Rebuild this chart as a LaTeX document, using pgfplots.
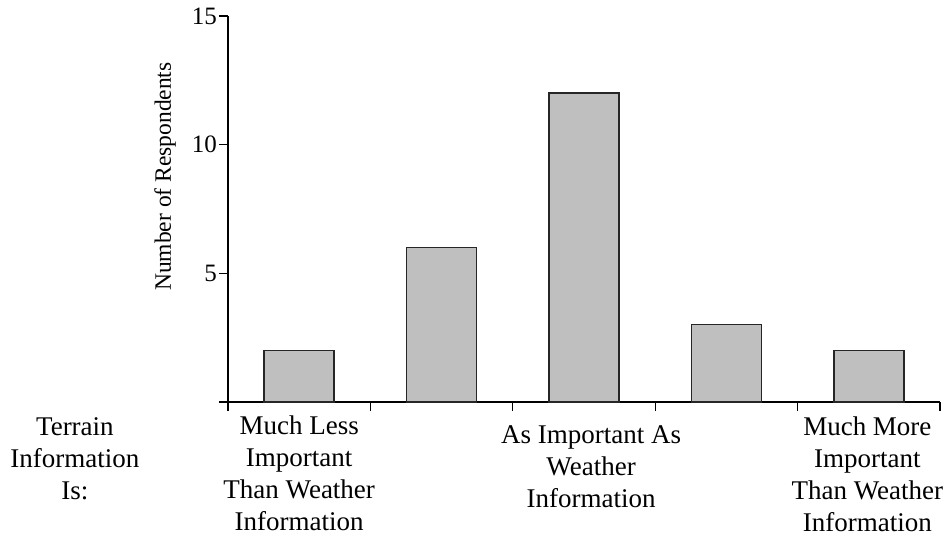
\documentclass[border=0pt]{standalone}
\usepackage{pgfplots}
\pgfplotsset{compat=1.18}
\usepackage{fontspec}
\setmainfont{Liberation Serif}

\begin{document}
\begin{tikzpicture}
\begin{axis}[
    scale only axis,
    width=712pt, height=386pt,
    xmin=0, xmax=5, ymin=0, ymax=15,
    axis x line*=bottom, axis y line*=left,
    axis line style={line width=1.4pt, -},
    xtick={0,1,2,3,4,5}, xticklabels={},
    ytick={0,5,10,15}, yticklabels={,5,10,15},
    tick align=outside,
    major tick length=9pt,
    tick style={line width=1.2pt, black},
    yticklabel style={font=\fontsize{25}{25}\selectfont, inner sep=2pt},
    ybar, bar width=70pt,
    clip=false,
]
\addplot[fill=black!25, draw=black!85, line width=1.4pt]
    coordinates {(0.5,2) (1.5,6) (2.5,12) (3.5,3) (4.5,2)};

\coordinate (O) at (axis cs:0,0);
\node[rotate=90, font=\fontsize{23.5}{24}\selectfont]
    at ([xshift=-63pt]axis cs:0,8.76) {Number of Respondents};
\tikzset{cat/.style={align=center, anchor=north, inner sep=0pt,
    font=\fontsize{27}{32}\selectfont}}
\node[cat] at ([yshift=-15pt]axis cs:-1.075,0) {Terrain\\Information\\Is:};
\node[cat] at ([yshift=-14pt]axis cs:0.5,0) {Much Less\\Important\\Than Weather\\Information};
\node[cat] at ([yshift=-23pt]axis cs:2.55,0) {As Important As\\Weather\\Information};
\node[cat] at ([yshift=-15pt]axis cs:4.49,0) {Much More\\Important\\Than Weather\\Information};
\end{axis}
\pgfresetboundingbox
\path[use as bounding box] ([shift={(-228pt,-136pt)}]O) rectangle ([shift={(718pt,402pt)}]O);
\end{tikzpicture}
\end{document}
